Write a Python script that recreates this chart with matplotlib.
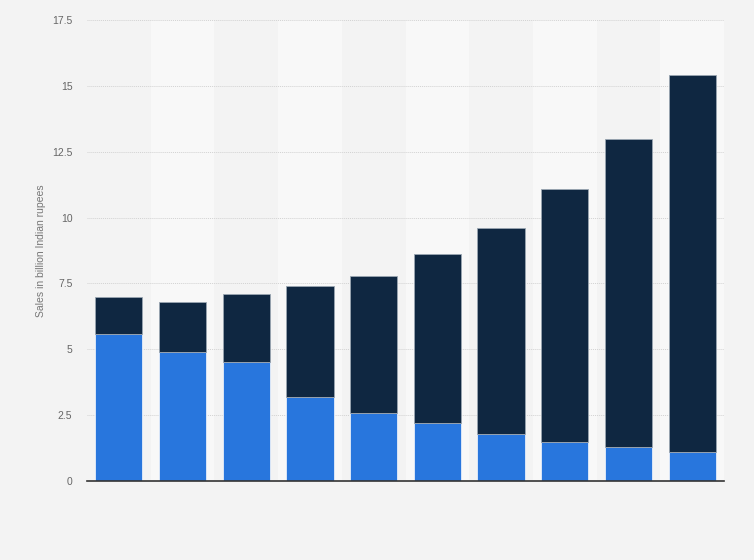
import matplotlib
matplotlib.use("Agg")
from matplotlib import pyplot as plt
import numpy as np

plt.rcParams['font.family'] = ['Liberation Sans', 'DejaVu Sans']

# (no x labels shown in the reference)
categories = list(range(1, 11))
lower_vals = [5.6, 4.9, 4.5, 3.2, 2.6, 2.2, 1.8, 1.5, 1.3, 1.1]
total_vals = [7.0, 6.8, 7.1, 7.4, 7.8, 8.6, 9.6, 11.1, 13.0, 15.4]
upper_vals = [t - l for t, l in zip(total_vals, lower_vals)]

bg = "#f3f3f3"
fig = plt.figure(figsize=(7.54, 5.6), dpi=100, facecolor=bg)
ax = fig.add_axes([0.1154, 0.141, 0.8448, 0.8233])
ax.set_facecolor(bg)

x = np.arange(len(categories))
# alternating lighter column bands
for i in x:
    if i % 2 == 1:
        ax.axvspan(i - 0.5, i + 0.5, color="#f8f8f8", zorder=0, lw=0)

ax.bar(x, lower_vals, width=0.74, color="#2876dd", edgecolor="#e6eefa", linewidth=0.6, zorder=3)
ax.bar(x, upper_vals, width=0.74, bottom=lower_vals, color="#0f2741", edgecolor="#9aa6b2", linewidth=0.6, zorder=3)

ax.set_xlim(-0.5, len(categories) - 0.5)
ax.set_ylim(0, 17.5)
ax.set_yticks([0, 2.5, 5, 7.5, 10, 12.5, 15, 17.5])
ax.set_yticklabels(["0", "2.5", "5", "7.5", "10", "12.5", "15", "17.5"])
ax.set_xticks([])
ax.yaxis.grid(True, linestyle=(0, (1, 1)), color="#d2d2d2", linewidth=0.7, zorder=1)
ax.set_axisbelow(True)

for s in ["top", "right", "left"]:
    ax.spines[s].set_visible(False)
ax.spines["bottom"].set_color("#333333")
ax.spines["bottom"].set_linewidth(1.2)
ax.spines["bottom"].set_zorder(4)
ax.tick_params(axis="y", length=0, pad=10.5, labelsize=7.5, labelcolor="#666666")

ax.set_ylabel("Sales in billion Indian rupees", fontsize=7.5, color="#777777", labelpad=4)

fig.savefig("out.png", dpi=100, facecolor=bg)
